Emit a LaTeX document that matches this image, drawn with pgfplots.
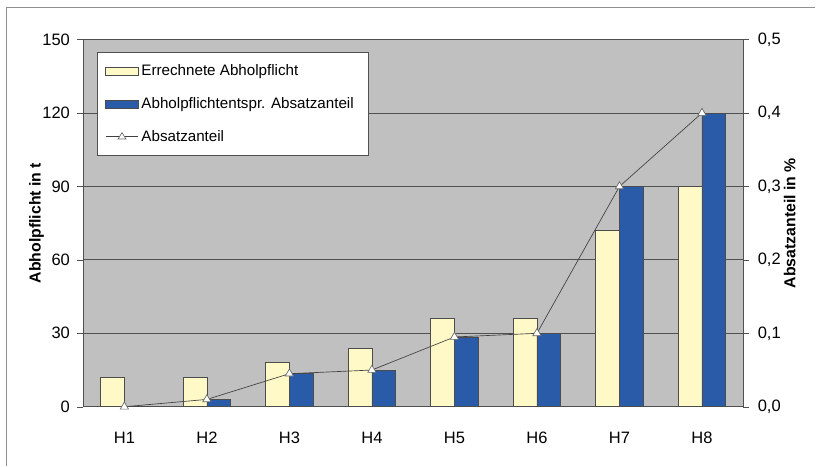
\documentclass[border=0pt]{standalone}
\usepackage{pgfplots}
\pgfplotsset{compat=1.18}
\usepackage{fontspec}
\setmainfont{Liberation Sans}

\definecolor{plotbg}{HTML}{C0C0C0}
\definecolor{barcream}{HTML}{FFF9C8}
\definecolor{barblue}{HTML}{2A5BA8}
\definecolor{gridgray}{HTML}{505050}
\definecolor{framegray}{HTML}{909090}

% Abholpflicht per Haushalt (t) and Absatzanteil
\pgfplotstableread{
x  errechnet  entspr  anteil
1  12         0       0.000
2  12         3       0.010
3  18         13.5    0.045
4  24         15      0.050
5  36         28.5    0.095
6  36         30      0.100
7  72         90      0.300
8  90         120     0.400
}\abholdata

\newcommand{\axislabelfont}{\fontsize{12}{14}\selectfont\bfseries}

\pgfplotsset{
  common/.style={
    scale only axis,
    width=500.25pt, height=278.25pt,
    xmin=0.5, xmax=8.5,
    /pgf/number format/assume math mode=true,
    tick label style={font=\fontsize{12.5}{14}\selectfont},
    axis line style={draw=gridgray},
  },
  barlegend/.style={legend image code/.code={
      \draw[##1] (0pt,-3pt) rectangle (25pt,3pt);}},
}

\begin{document}
\begin{tikzpicture}
\begin{axis}[
  common,
  axis background/.style={fill=plotbg},
  ymin=0, ymax=150, ytick={0,30,...,150},
  ymajorgrids, grid style={draw=gridgray, line width=0.6pt},
  axis y line*=left, axis x line*=bottom,
  tick align=outside, major tick length=4.5pt,
  ytick style={draw=gridgray},
  xtick={1,...,8},
  xticklabels={H1,H2,H3,H4,H5,H6,H7,H8},
  xtick style={draw=none},
  xticklabel style={yshift=-11pt},
  yticklabel style={xshift=-2pt},
  ylabel={Abholpflicht in t},
  every axis y label/.style={at={(axis description cs:-0.0705,0.5)}, anchor=center, rotate=90, font=\axislabelfont},
  ybar, bar width=18pt,
  legend style={at={(axis description cs:0.021,0.965)}, anchor=north west,
    draw=gridgray, fill=white, inner xsep=6pt, inner ysep=7pt, row sep=11pt,
    font=\fontsize{11.5}{13}\selectfont},
  legend cell align=left,
]
\addplot+[bar shift=-9pt, fill=barcream, draw=black!70, barlegend]
  table[x=x, y=errechnet] {\abholdata};
\addlegendentry{Errechnete Abholpflicht}
\addplot+[bar shift=9pt, fill=barblue, draw=black!70, barlegend]
  table[x=x, y=entspr] {\abholdata};
\addlegendentry{Abholpflichtentspr. Absatzanteil\hspace*{3pt}}
\addlegendimage{legend image code/.code={
    \draw[black!75, line width=0.5pt] (0pt,0pt) -- (25pt,0pt);
    \draw[black!60, fill=white, line width=0.5pt] (12.5pt,0pt) ++(0,3pt) -- ++(-3pt,-4.8pt) -- ++(6pt,0) -- cycle;}}
\addlegendentry{Absatzanteil}
\end{axis}

\begin{axis}[
  common,
  ymin=0, ymax=0.5, ytick={0,0.1,...,0.5},
  axis y line*=right, axis x line=none,
  tick align=outside, major tick length=4.5pt,
  ytick style={draw=gridgray},
  yticklabel style={xshift=3pt, /pgf/number format/.cd, fixed, fixed zerofill, precision=1, use comma},
  ylabel={Absatzanteil in \%},
  every axis y label/.style={at={(axis description cs:1.0705,0.5)}, anchor=center, rotate=90, font=\axislabelfont},
]
\addplot[black!75, line width=0.5pt, mark=triangle*,
  mark options={fill=white, draw=black!60, scale=1.8}]
  table[x=x, y=anteil] {\abholdata};
\end{axis}

\pgfresetboundingbox
\draw[framegray, line width=0.8pt] (-57.75pt,-45pt) -- (-57.75pt,302.25pt) -- (555pt,302.25pt);
\useasboundingbox (-63pt,-39.75pt) rectangle (549pt,308.25pt);
\end{tikzpicture}
\end{document}
